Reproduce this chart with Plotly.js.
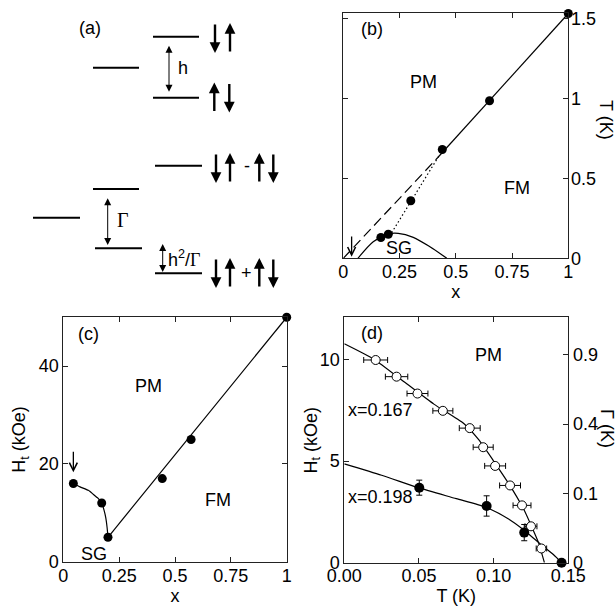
<!DOCTYPE html>
<html><head><meta charset="utf-8">
<script src="https://cdn.plot.ly/plotly-3.0.1.min.js"></script>
<style>html,body{margin:0;padding:0;background:#fff}</style>
</head><body><div id="chart" style="width:616px;height:606px"></div>
<script>
// ================= DATA =================
// ---- panel (a): energy-level schematic (schematic units = px of the panel)
const levelX0 = [33, 93, 93, 95, 153, 153, 155, 155];
const levelX1 = [80, 139, 139, 142, 199, 199, 202, 202];
const levelY  = [217.7, 67.7, 189, 248.3, 36.7, 97.7, 165.7, 273.3];
const gapX  = [169, 107.7, 162.7];
const gapY0 = [44.3, 196.7, 242.5];
const gapY1 = [91.7, 245, 272];
const spinX    = [215, 230, 214.3, 229.3, 216, 230, 259.3, 273.3, 216, 230, 259.3, 273.3];
const spinMidY = [38, 38, 97.5, 97.5, 168, 168, 168, 168, 273, 273, 273, 273];
const spinUp   = [false, true, true, false, false, true, true, false, false, true, true, false];
const spinLen = 30;
const signX = [246.7, 246.7], signY = [166, 273], signText = ['-', '+'];

// ---- panel (b): T vs x
const bX = [0.167, 0.2, 0.30, 0.44, 0.65, 1.0];
const bT = [0.13, 0.15, 0.36, 0.68, 0.985, 1.53];
const bSolidX = [0.42, 1.0],  bSolidT = [0.63, 1.53];
const bDashX  = [0.0, 0.42],  bDashT  = [0.0, 0.63];
const bDotX   = [0.215, 0.425], bDotT = [0.16, 0.64];
const bSGX = [0.065, 0.133, 0.2, 0.244, 0.311, 0.385, 0.46];
const bSGT = [0.0, 0.104, 0.152, 0.156, 0.131, 0.072, 0.0];
const bArrowX = 0.037, bArrowT0 = 0.145, bArrowT1 = 0.01;

// ---- panel (c): Ht vs x
const cX = [0.045, 0.172, 0.2, 0.443, 0.572, 1.0];
const cH = [16, 12, 5, 17, 25, 50];
const cCurveX = [0.045, 0.075, 0.112, 0.134, 0.155, 0.172, 0.182, 0.19, 0.196, 0.2];
const cCurveH = [16, 15.3, 14.6, 13.8, 13.0, 12, 10.6, 9.0, 7.0, 5];
const cLineX = [0.2, 1.0], cLineH = [5, 50];
const cArrowX = 0.045, cArrowH0 = 22.8, cArrowH1 = 18.3;

// ---- panel (d): Ht vs T
const dOpenT = [0.021, 0.035, 0.049, 0.066, 0.084, 0.093, 0.101, 0.111, 0.119, 0.125, 0.132];
const dOpenH = [9.97, 9.15, 8.32, 7.47, 6.62, 5.68, 4.76, 3.80, 2.82, 1.79, 0.70];
const dOpenErrT = [0.008, 0.0075, 0.007, 0.0067, 0.007, 0.0067, 0.007, 0.007, 0.006, 0.004, 0.0035];
const dFillT = [0.0502, 0.0953, 0.1205, 0.1455];
const dFillH = [3.69, 2.79, 1.48, 0.0];
const dFillErrH = [0.37, 0.5, 0.4, 0];
const dCurve1T = [0, 0.02, 0.04, 0.06, 0.08, 0.09, 0.10, 0.11, 0.12, 0.125, 0.13, 0.134];
const dCurve1H = [10.77, 10.0, 8.9, 7.8, 6.85, 6.05, 5.0, 3.9, 2.65, 1.85, 1.0, 0];
const dCurve2T = [0, 0.025, 0.05, 0.075, 0.095, 0.11, 0.12, 0.13, 0.14, 0.1455];
const dCurve2H = [4.86, 4.3, 3.68, 3.15, 2.72, 2.15, 1.62, 1.0, 0.4, 0];
const gammaTicks = [0, 0.1, 0.4, 0.9];
const gammaTickText = ['0', '0.1', '0.4', '0.9'];
const gammaScale = 10.78; // Ht (kOe) = gammaScale * sqrt(Gamma)

// ================= FIGURE =================
const FONT = 'Liberation Sans, Arial, Helvetica, sans-serif';
const K = '#000';
const traces = [];

// (a) levels
const lx = [], ly = [];
levelY.forEach((y, i) => { lx.push(levelX0[i], levelX1[i], null); ly.push(y, y, null); });
traces.push({x: lx, y: ly, xaxis: 'x', yaxis: 'y', mode: 'lines', line: {color: K, width: 2}, hoverinfo: 'skip'});

// (b)
traces.push({x: bDashX, y: bDashT, xaxis: 'x2', yaxis: 'y2', mode: 'lines', line: {color: K, width: 1.2, dash: '10px,5px'}});
traces.push({x: bDotX, y: bDotT, xaxis: 'x2', yaxis: 'y2', mode: 'lines', line: {color: K, width: 1.2, dash: '1.5px,2.5px'}});
traces.push({x: bSolidX, y: bSolidT, xaxis: 'x2', yaxis: 'y2', mode: 'lines', line: {color: K, width: 1.2}});
traces.push({x: bSGX, y: bSGT, xaxis: 'x2', yaxis: 'y2', mode: 'lines', line: {color: K, width: 1.2, shape: 'spline', smoothing: 0.8}});
traces.push({x: bX, y: bT, xaxis: 'x2', yaxis: 'y2', mode: 'markers', marker: {color: K, size: 9}, cliponaxis: false});

// (c)
traces.push({x: cCurveX, y: cCurveH, xaxis: 'x3', yaxis: 'y3', mode: 'lines', line: {color: K, width: 1.2, shape: 'spline', smoothing: 0.5}});
traces.push({x: cLineX, y: cLineH, xaxis: 'x3', yaxis: 'y3', mode: 'lines', line: {color: K, width: 1.2}});
traces.push({x: cX, y: cH, xaxis: 'x3', yaxis: 'y3', mode: 'markers', marker: {color: K, size: 9}, cliponaxis: false});

// (d)
traces.push({x: dCurve1T, y: dCurve1H, xaxis: 'x4', yaxis: 'y4', mode: 'lines', line: {color: K, width: 1.2, shape: 'spline', smoothing: 0.6}});
traces.push({x: dCurve2T, y: dCurve2H, xaxis: 'x4', yaxis: 'y4', mode: 'lines', line: {color: K, width: 1.2, shape: 'spline', smoothing: 0.6}});
traces.push({x: dOpenT, y: dOpenH, xaxis: 'x4', yaxis: 'y4', mode: 'markers',
  marker: {color: '#fff', size: 9, line: {color: K, width: 1}},
  error_x: {type: 'data', array: dOpenErrT, color: K, thickness: 1, width: 3}, cliponaxis: false});
traces.push({x: dFillT, y: dFillH, xaxis: 'x4', yaxis: 'y4', mode: 'markers',
  marker: {color: K, size: 10},
  error_y: {type: 'data', array: dFillErrH, color: K, thickness: 1, width: 3}, cliponaxis: false});
traces.push({x: [0], y: [0], xaxis: 'x4', yaxis: 'y5', mode: 'markers', marker: {opacity: 0}, hoverinfo: 'skip'});

// ---- annotations
const ann = [];
function label(text, x, y, xref, yref, extra) {
  ann.push(Object.assign({text, x, y, xref, yref, showarrow: false, xanchor: 'center', yanchor: 'middle',
    font: {family: FONT, size: 18, color: K}}, extra || {}));
}
// (a)
label('(a)', 90, 28, 'x', 'y');
label('h', 183, 68, 'x', 'y');
label('<span style="font-family:Liberation Serif">Γ</span>', 123.3, 220, 'x', 'y', {font: {family: FONT, size: 20, color: K}});
label('h<sup>2</sup>/<span style="font-family:Liberation Serif">Γ</span>', 166, 258.3, 'x', 'y', {xanchor: 'left'});
signX.forEach((x, i) => label(signText[i], x, signY[i], 'x', 'y'));
gapX.forEach((x, i) => ann.push({x: x, y: gapY1[i], ax: x, ay: gapY0[i], xref: 'x', yref: 'y', axref: 'x', ayref: 'y',
  text: '', showarrow: true, arrowside: 'end+start', arrowhead: 2, startarrowhead: 2, arrowwidth: 1, arrowsize: 1.4, startarrowsize: 1.4, arrowcolor: K}));
spinX.forEach((x, i) => {
  const tip = spinUp[i] ? spinMidY[i] - spinLen / 2 : spinMidY[i] + spinLen / 2;
  const tail = spinUp[i] ? spinMidY[i] + spinLen / 2 : spinMidY[i] - spinLen / 2;
  ann.push({x: x, y: tip, ax: x, ay: tail, xref: 'x', yref: 'y', axref: 'x', ayref: 'y', text: '', showarrow: true,
    arrowhead: 2, arrowwidth: 2.4, arrowsize: 0.9, arrowcolor: K});
});
// (b)
label('(b)', 0.126, 1.43, 'x2', 'y2');
label('PM', 0.356, 1.10, 'x2', 'y2');
label('FM', 0.771, 0.4375, 'x2', 'y2');
label('SG', 0.249, 0.0625, 'x2', 'y2');
ann.push({x: bArrowX, y: bArrowT1, ax: bArrowX, ay: bArrowT0, xref: 'x2', yref: 'y2', axref: 'x2', ayref: 'y2', text: '',
  showarrow: true, arrowhead: 5, arrowwidth: 1.3, arrowsize: 1.2, arrowcolor: K});
label('T (K)', 606/616, 1 - 120/606, 'paper', 'paper', {textangle: 90});
// (c)
label('(c)', 0.112, 46.6, 'x3', 'y3');
label('PM', 0.381, 35.9, 'x3', 'y3');
label('FM', 0.694, 12.6, 'x3', 'y3');
label('SG', 0.137, 1.57, 'x3', 'y3');
ann.push({x: cArrowX, y: cArrowH1, ax: cArrowX, ay: cArrowH0, xref: 'x3', yref: 'y3', axref: 'x3', ayref: 'y3', text: '',
  showarrow: true, arrowhead: 5, arrowwidth: 1.3, arrowsize: 1.2, arrowcolor: K});
// (d)
label('(d)', 0.0183, 11.28, 'x4', 'y4');
label('PM', 0.0964, 10.2, 'x4', 'y4');
label('x=0.167', 0.024, 7.5, 'x4', 'y4');
label('x=0.198', 0.024, 3.23, 'x4', 'y4');
label('H<sub>t</sub> (kOe)', 311.5/616, 1 - 440/606, 'paper', 'paper', {textangle: -90});
label('Γ (K)', 607/616, 1 - 428/606, 'paper', 'paper', {textangle: 90});

// ---- axes
const ax = (o) => Object.assign({showgrid: false, zeroline: false, showline: true, linecolor: '#222', linewidth: 1,
  ticks: 'inside', ticklen: 5, tickcolor: '#222', mirror: 'ticks', fixedrange: true,
  tickfont: {family: FONT, size: 18, color: K}}, o);
const tfont = {family: FONT, size: 18, color: K};
const hidden = {visible: false, fixedrange: true};

const layout = {
  width: 616, height: 606, margin: {l: 0, r: 0, t: 0, b: 0},
  paper_bgcolor: '#fff', plot_bgcolor: 'rgba(0,0,0,0)', showlegend: false,
  font: {family: FONT, size: 18, color: K},
  xaxis: Object.assign({domain: [0, 300/616], range: [0, 300], anchor: 'y'}, hidden),
  yaxis: Object.assign({domain: [1 - 300/606, 1], range: [300, 0], anchor: 'x'}, hidden),
  xaxis2: ax({domain: [343.3/616, 568.3/616], anchor: 'y2', range: [0, 1], tickvals: [0, 0.25, 0.5, 0.75, 1],
    ticklabelstandoff: -3, title: {text: 'x', font: tfont, standoff: 3}}),
  yaxis2: ax({domain: [1 - 258.3/606, 1 - 12.7/606], anchor: 'x2', side: 'right', range: [0, 1.535], tickvals: [0, 0.5, 1, 1.5],
    ticklabelstandoff: -2}),
  xaxis3: ax({domain: [63.3/616, 286.7/616], anchor: 'y3', range: [0, 1], tickvals: [0, 0.25, 0.5, 0.75, 1],
    ticklabelstandoff: -2, title: {text: 'x', font: tfont, standoff: 5}}),
  yaxis3: ax({domain: [1 - 561.7/606, 1 - 317.3/606], anchor: 'x3', range: [0, 50], tickvals: [0, 20, 40],
    title: {text: 'H<sub>t</sub> (kOe)', font: tfont, standoff: 8}}),
  xaxis4: ax({domain: [344.3/616, 568.3/616], anchor: 'y4', range: [0, 0.15], tickvals: [0, 0.05, 0.1, 0.15], tickformat: '.2f',
    ticklabelstandoff: -3, title: {text: 'T (K)', font: tfont, standoff: 1}}),
  yaxis4: ax({domain: [1 - 562.7/606, 1 - 317.3/606], anchor: 'x4', range: [0, 12.07], tickvals: [0, 5, 10], mirror: false}),
  yaxis5: ax({overlaying: 'y4', anchor: 'x4', side: 'right', range: [0, 12.07], mirror: false,
    tickvals: gammaTicks.map(g => gammaScale * Math.sqrt(g)), ticktext: gammaTickText}),
  annotations: ann
};

Plotly.newPlot('chart', traces, layout, {displayModeBar: false, staticPlot: true});
</script></body></html>
